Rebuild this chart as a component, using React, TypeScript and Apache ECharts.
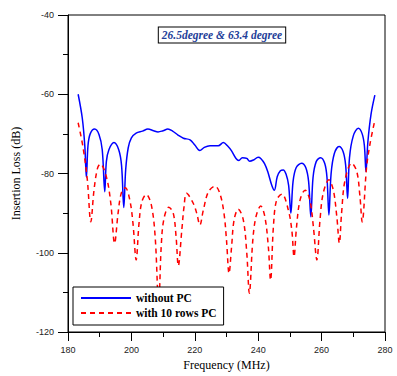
import React, { useEffect, useRef } from "react";
import * as echarts from "echarts";

const xTicks = [180, 200, 220, 240, 260, 280];
const yTicks = [-40, -60, -80, -100, -120];
const seriesNames = ["without PC", "with 10 rows PC"];
const annotation = "26.5degree & 63.4 degree";

const withoutFreq = [
  183.2, 184.5, 185.3, 185.8, 186.3, 187.0, 188.4, 189.8, 190.8, 191.6,
  192.1, 192.9, 194.5, 196.0, 196.9, 197.6, 198.2, 199.0, 200.0, 201.5,
  203.5, 205.2, 207.0, 208.4, 210.0, 211.5, 213.0, 214.7, 216.4, 218.5,
  220.0, 221.6, 223.0, 224.8, 227.4, 229.0, 230.3, 231.6, 233.0, 233.9,
  235.0, 236.4, 237.3, 238.5, 240.0, 240.8, 242.0, 243.0, 244.3, 245.1,
  246.0, 247.0, 247.9, 248.8, 249.6, 250.3, 251.0, 252.0, 253.7, 255.0,
  255.9, 256.6, 257.3, 258.3, 259.7, 261.0, 261.7, 262.3, 263.0, 264.0,
  265.5, 266.8, 267.6, 268.2, 268.8, 270.0, 271.6, 272.8, 273.5, 274.0,
  274.6, 275.6, 276.8,
];
const withoutLoss = [
  -60.0, -66.0, -73.0, -81.0, -73.0, -70.0, -68.8, -70.2, -74.0, -84.6,
  -77.0, -74.0, -72.2, -74.0, -78.0, -88.6, -79.0, -73.5, -71.0, -69.8,
  -69.3, -68.8, -69.2, -69.5, -69.2, -68.8, -69.3, -70.3, -71.1, -71.5,
  -72.8, -74.2, -73.4, -73.0, -73.0, -72.2, -73.0, -74.3, -76.2, -76.7,
  -76.0, -76.2, -76.9, -76.6, -75.9, -76.2, -77.5, -79.5, -83.0, -84.2,
  -80.8, -79.3, -79.1, -80.2, -83.0, -90.0, -82.0, -78.5, -77.4, -78.5,
  -82.0, -90.9, -81.0, -77.0, -76.0, -77.5, -81.0, -90.5, -80.0, -75.0,
  -73.2, -74.5, -78.0, -86.3, -76.0, -70.5, -68.6, -70.0, -73.0, -79.5,
  -72.0, -65.0, -60.2,
];

const withFreq = [
  183.2, 184.7, 186.1, 187.2, 188.2, 189.3, 190.2, 192.1, 193.5, 194.7,
  195.8, 196.8, 198.1, 199.5, 200.5, 201.5, 202.4, 203.3, 204.7, 206.3,
  207.5, 208.6, 209.4, 210.2, 211.8, 213.2, 214.1, 214.8, 215.9, 216.6,
  217.4, 219.5, 220.6, 221.6, 222.7, 224.3, 226.4, 227.9, 229.2, 230.0,
  230.8, 231.6, 232.4, 233.7, 235.3, 236.4, 237.2, 238.3, 239.3, 240.8,
  242.1, 243.2, 243.9, 244.8, 245.8, 247.5, 249.5, 250.6, 251.3, 252.1,
  253.2, 254.8, 256.3, 257.4, 258.5, 259.5, 260.5, 262.3, 263.7, 264.8,
  265.6, 266.3, 267.4, 269.5, 271.1, 272.1, 272.8, 274.2, 275.3, 276.6,
];
const withLoss = [
  -67.2, -73.2, -81.6, -92.2, -84.2, -78.7, -77.6, -80.8, -87.5, -97.6,
  -90.0, -85.0, -83.6, -86.7, -92.6, -101.8, -92.6, -87.1, -85.3, -88.0,
  -96.0, -113.0, -98.5, -91.7, -88.5, -90.0, -96.0, -103.3, -94.3, -88.4,
  -85.0, -87.5, -90.0, -93.0, -89.2, -84.6, -83.2, -85.0, -90.0, -96.8,
  -105.2, -98.5, -91.7, -89.0, -91.7, -100.1, -110.2, -96.8, -90.9, -88.2,
  -90.9, -98.5, -106.9, -93.4, -86.7, -85.2, -89.2, -94.3, -101.0, -93.4,
  -86.7, -84.2, -86.7, -93.4, -101.8, -91.7, -85.0, -81.6, -84.2, -90.9,
  -97.6, -90.0, -81.6, -77.4, -79.5, -85.8, -92.2, -78.3, -72.4, -67.3,
];

const zip = (xs: number[], ys: number[]) => xs.map((x, i) => [x, ys[i]]);

export default function App() {
  const ref = useRef<HTMLDivElement>(null);
  useEffect(() => {
    if (!ref.current) return;
    const chart = echarts.init(ref.current, null, { renderer: "svg" });
    const tickFont = { fontFamily: "Liberation Sans, Arial, sans-serif", fontSize: 9, color: "#222" };
    chart.setOption({
      animation: false,
      backgroundColor: "#fff",
      grid: {
        left: 68,
        right: 12,
        top: 15,
        bottom: 44,
        show: true,
        borderColor: "#000",
        borderWidth: 1,
      },
      xAxis: {
        type: "value",
        min: xTicks[0],
        max: xTicks[xTicks.length - 1],
        interval: 20,
        name: "Frequency (MHz)",
        nameLocation: "middle",
        nameGap: 26,
        nameTextStyle: { fontFamily: "Liberation Serif, Times New Roman, serif", fontSize: 12, color: "#000" },
        axisLine: { show: true, onZero: false, lineStyle: { color: "#000", width: 1 } },
        axisTick: { show: true, inside: false, length: 9, lineStyle: { color: "#000" } },
        minorTick: { show: true, splitNumber: 2, length: 5, lineStyle: { color: "#000" } },
        splitLine: { show: false },
        axisLabel: { ...tickFont, margin: 13 },
      },
      yAxis: {
        type: "value",
        min: yTicks[yTicks.length - 1],
        max: yTicks[0],
        interval: 20,
        name: "Insertion Loss (dB)",
        nameLocation: "middle",
        nameGap: 46,
        nameTextStyle: { fontFamily: "Liberation Serif, Times New Roman, serif", fontSize: 12, color: "#000" },
        axisLine: { show: true, onZero: false, lineStyle: { color: "#000", width: 1 } },
        axisTick: { show: true, inside: false, length: 10, lineStyle: { color: "#000" } },
        minorTick: { show: true, splitNumber: 2, length: 5, lineStyle: { color: "#000" } },
        splitLine: { show: false },
        axisLabel: { ...tickFont, margin: 14 },
      },
      legend: {
        left: 73,
        top: 287,
        orient: "vertical",
        itemWidth: 50,
        itemHeight: 12,
        itemGap: 3,
        padding: [5, 7, 6, 7],
        backgroundColor: "#fff",
        borderColor: "#000",
        borderWidth: 1,
        borderRadius: 0,
        itemStyle: { opacity: 0 },
        textStyle: { fontFamily: "Liberation Serif, Times New Roman, serif", fontWeight: "bold", fontSize: 11.5, color: "#000" },
        data: seriesNames,
      },
      graphic: [
        {
          type: "text",
          x: 222,
          y: 35,
          style: {
            text: annotation,
            fontFamily: "Liberation Serif, Times New Roman, serif",
            fontStyle: "italic",
            fontWeight: "bold",
            fontSize: 11.5,
            fill: "#1f3f99",
            align: "center",
            verticalAlign: "middle",
            backgroundColor: "#fff",
            borderColor: "#000",
            borderWidth: 1,
            padding: [2, 3, 1, 3],
          },
        },
      ],
      series: [
        {
          name: seriesNames[0],
          type: "line",
          data: zip(withoutFreq, withoutLoss),
          smooth: 0.35,
          showSymbol: false,
          symbol: "none",
          lineStyle: { color: "#0000ff", width: 1.5 },
          itemStyle: { color: "#0000ff" },
        },
        {
          name: seriesNames[1],
          type: "line",
          data: zip(withFreq, withLoss),
          smooth: 0.35,
          showSymbol: false,
          symbol: "none",
          lineStyle: { color: "#ff0000", width: 1.5, type: [5, 4] },
          itemStyle: { color: "#ff0000" },
        },
      ],
    });
    return () => chart.dispose();
  }, []);
  return <div ref={ref} style={{ width: 397, height: 376, position: "absolute", left: 0, top: 0 }} />;
}
